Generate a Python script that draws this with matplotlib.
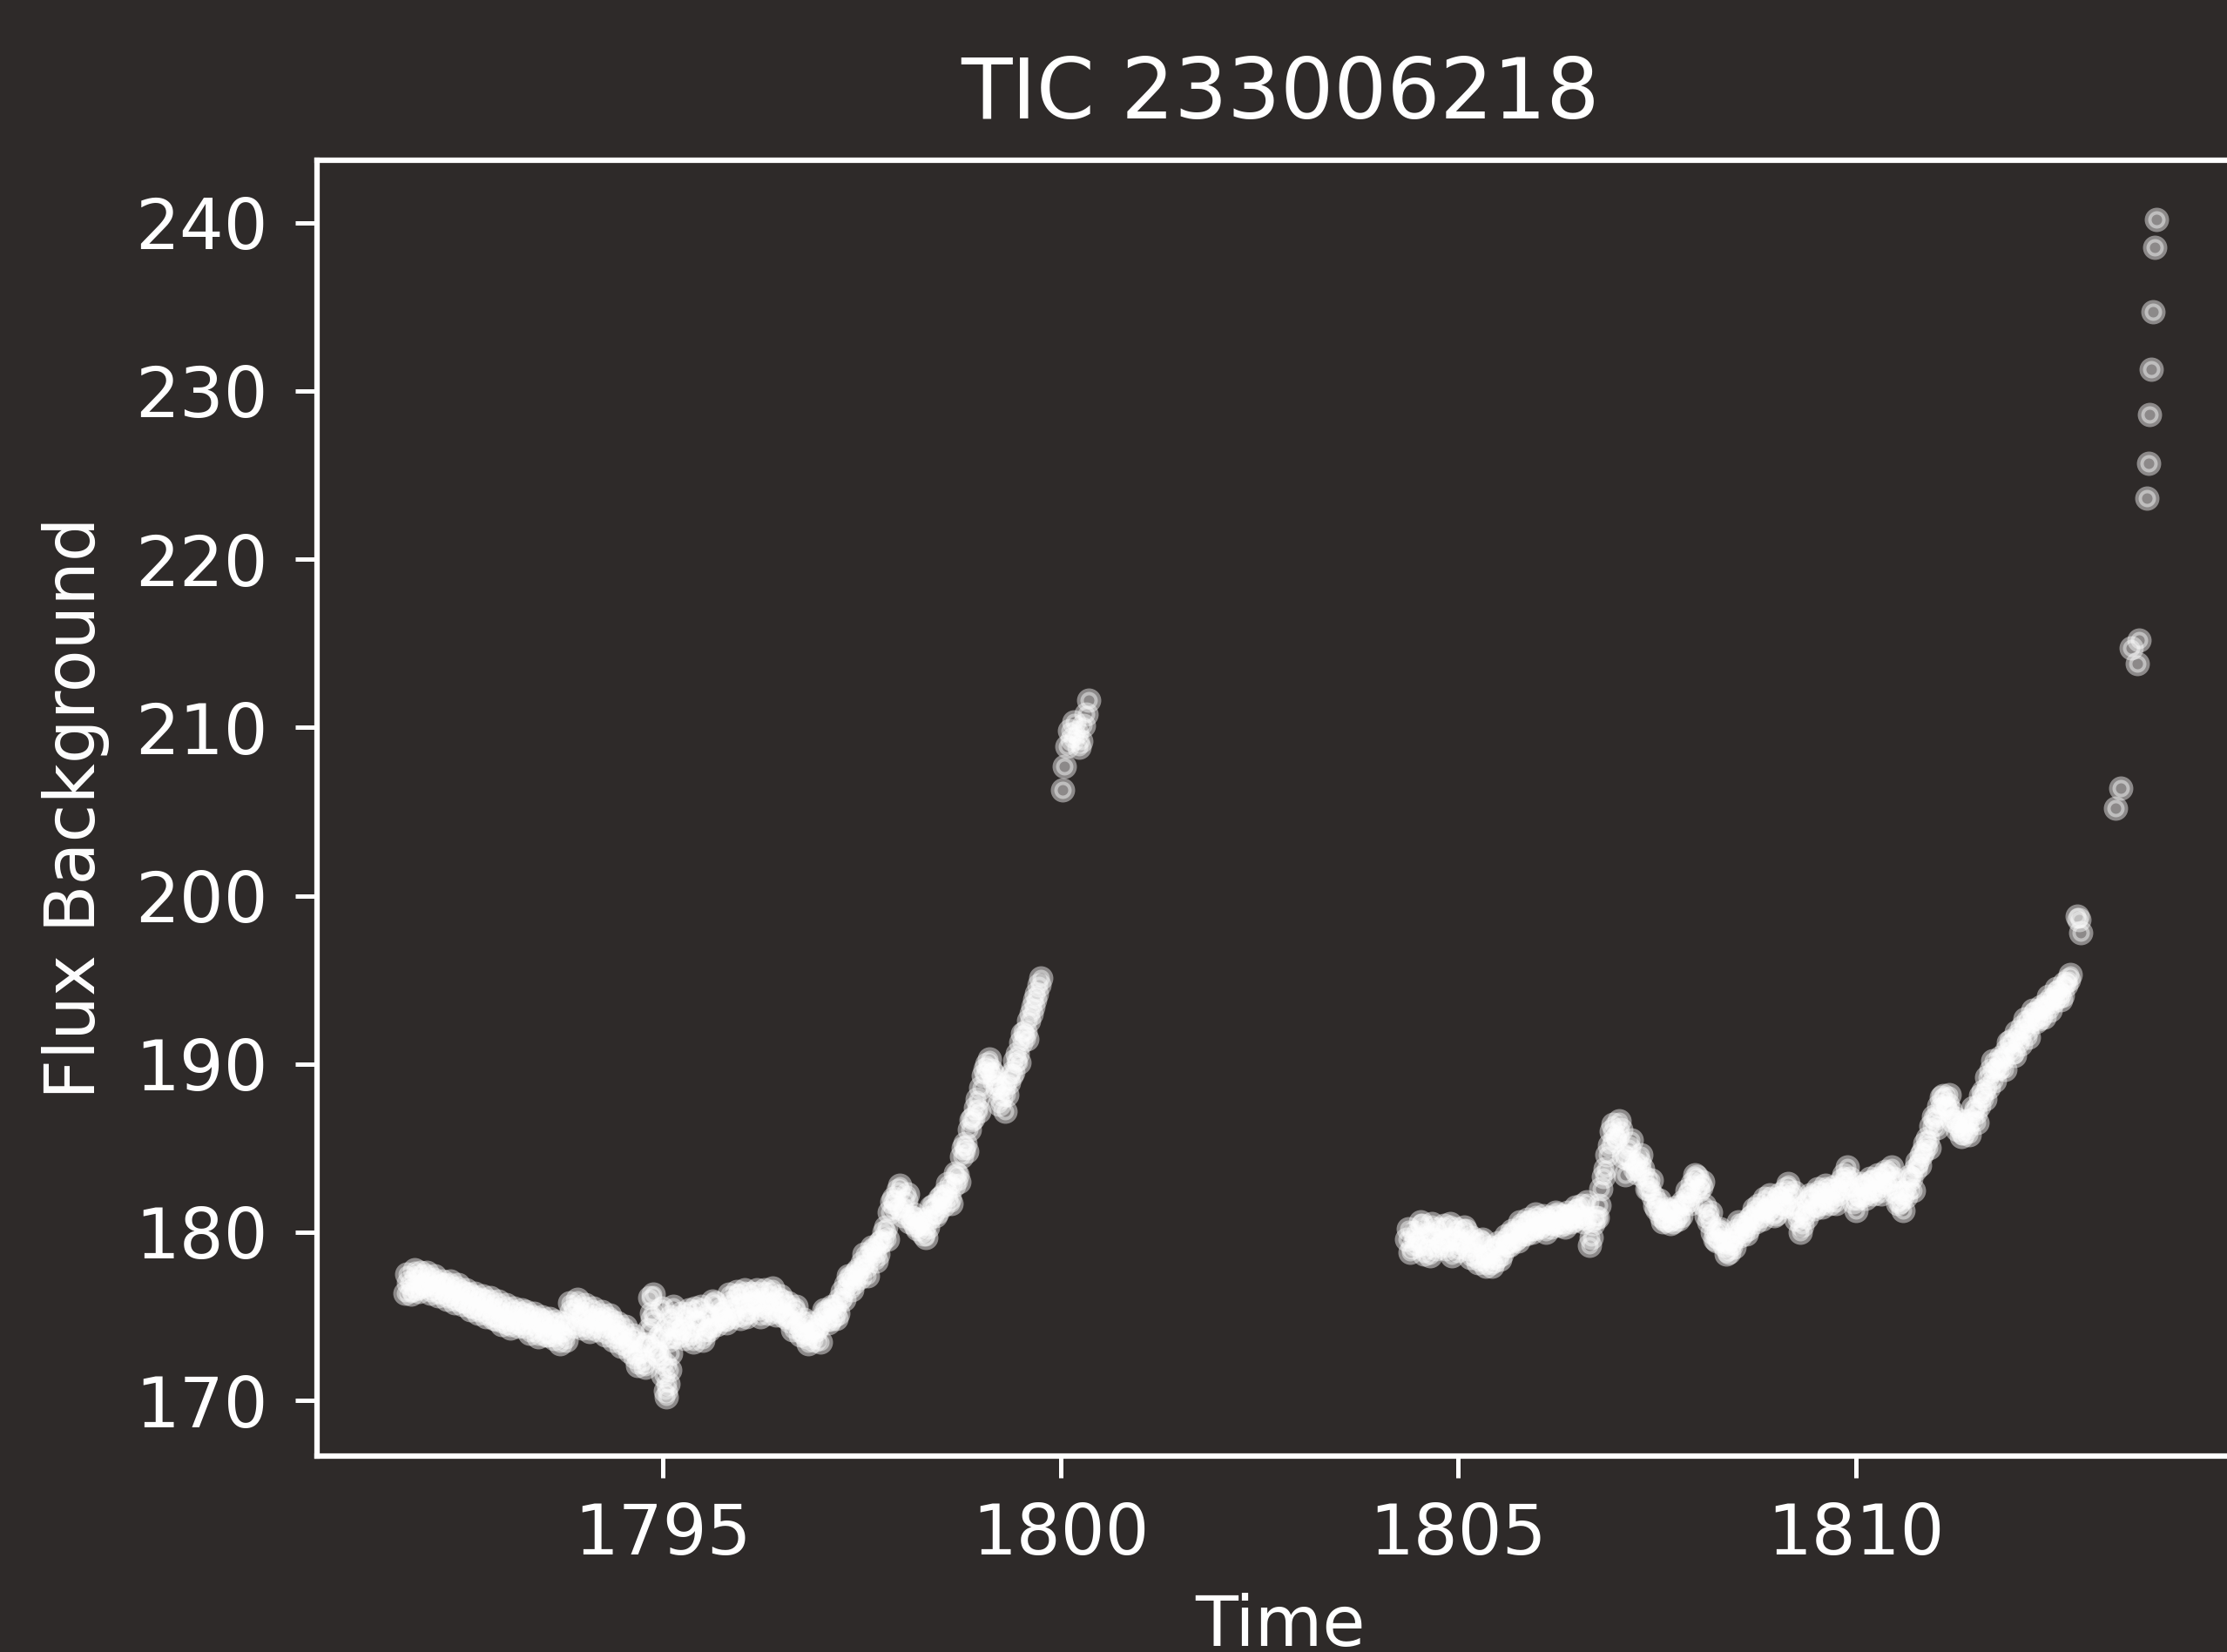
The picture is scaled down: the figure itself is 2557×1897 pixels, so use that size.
import numpy as np
import matplotlib
matplotlib.use("Agg")
import matplotlib.pyplot as plt

# ---- labels -------------------------------------------------------------
title = "TIC 233006218"
x_label = "Time"
y_label = "Flux Background"

x_ticks = [1795, 1800, 1805, 1810]
y_ticks = [170, 180, 190, 200, 210, 220, 230, 240]

# ---- background flux ------------------------------------------------------
# Dense stretches are stored as two interleaved samplings, each spaced by
# `cadence` days; the second one is offset by half a cadence.
cadence = 0.05

orbit1_start = 1791.75
orbit1_flux = [
    176.4, 177.0, 176.6, 177.3, 177.6, 176.9, 177.2, 176.7, 177.0, 176.5,
    176.9, 176.3, 176.7, 176.1, 176.5, 175.9, 176.3, 175.6, 176.0, 175.5,
    175.9, 175.3, 175.6, 174.8, 175.4, 175.0, 174.6, 175.2, 174.7, 174.9,
    174.4, 175.0, 174.6, 174.2, 174.8, 174.5, 173.9, 174.4, 174.7, 173.4,
    174.0, 174.6, 175.3, 175.6, 174.9, 175.2, 174.5, 175.0, 174.6, 174.8,
    174.9, 174.4, 174.7, 174.1, 173.8, 174.0, 173.3, 173.6, 172.6, 172.9,
    172.3, 173.4, 175.2, 173.1, 172.6, 171.5, 174.3, 175.0, 174.5, 174.1,
    174.3, 174.9, 174.0, 175.5, 174.6, 173.6, 175.1, 174.4, 175.8, 174.9,
    175.2, 174.6, 175.8, 175.4, 176.2, 175.7, 175.0, 176.4, 175.9, 175.5,
    176.0, 175.6, 176.3, 175.8, 175.4, 175.9, 175.1, 174.7, 175.3, 174.5,
    174.2, 173.8, 174.6, 173.6, 174.4, 174.9, 175.3, 174.8, 175.6, 175.2,
    176.5, 176.9, 177.3, 177.0, 177.8, 178.2, 178.0, 178.6, 179.0, 178.7,
    179.5, 180.3, 181.2, 182.0, 182.5, 181.4, 181.9, 180.6, 181.1, 180.2,
    180.5, 179.7, 180.9, 181.6, 181.2, 182.1, 182.4, 182.0, 182.8, 183.4,
    184.5, 185.3, 186.1, 186.8, 187.9, 188.6, 189.7, 190.3, 189.4, 188.6,
    188.0, 187.2, 188.9, 189.5, 190.6, 191.3, 191.9, 192.6, 193.4, 194.2,
    195.1,
]
orbit1_flux_mid = [
    177.5, 176.3, 177.8, 176.5, 176.8, 177.6, 176.4, 177.4, 176.2, 177.1,
    176.0, 177.1, 175.8, 176.9, 175.7, 176.6, 175.4, 176.4, 175.2, 176.2,
    175.0, 176.1, 174.9, 175.9, 174.5, 175.7, 174.3, 175.5, 174.4, 175.4,
    175.3, 174.0, 175.2, 173.8, 175.0, 173.9, 174.9, 173.7, 174.1, 174.6,
    173.6, 175.8, 174.4, 176.0, 174.3, 175.7, 174.1, 175.5, 174.2, 175.3,
    173.9, 175.1, 173.6, 174.6, 173.2, 174.4, 172.9, 173.9, 172.1, 173.4,
    172.0, 174.2, 176.3, 172.8, 173.9, 170.6, 173.6, 175.6, 173.8, 175.2,
    173.7, 175.4, 173.5, 174.9, 175.6, 174.0, 174.2, 175.9, 174.5, 175.4,
    174.8, 176.3, 175.0, 176.5, 174.9, 176.6, 175.3, 175.8, 176.6, 175.0,
    176.6, 175.2, 176.7, 175.1, 176.2, 175.0, 175.8, 174.2, 175.6, 173.9,
    174.8, 173.4, 174.0, 174.2, 173.5, 175.4, 174.6, 175.6, 174.9, 176.0,
    176.0, 177.4, 176.6, 177.6, 177.3, 178.7, 177.4, 179.1, 178.3, 179.4,
    180.0, 179.6, 181.8, 181.5, 182.8, 181.0, 182.3, 180.9, 180.4, 180.8,
    179.9, 180.3, 181.5, 181.0, 182.0, 181.6, 182.9, 181.7, 183.5, 183.0,
    185.0, 184.8, 186.7, 187.4, 187.2, 189.3, 190.0, 189.6, 188.9, 187.6,
    188.6, 188.2, 189.3, 190.2, 190.1, 191.8, 191.5, 193.0, 193.8, 194.7,
]

# scattered cadences around the momentum dump near 1795
orbit1_dump_time = [1794.83, 1794.86, 1794.95, 1794.98, 1795.02, 1795.04,
                    1795.06, 1795.08, 1795.10]
orbit1_dump_flux = [176.1, 174.8, 173.8, 175.5, 172.2, 170.2,
                    171.0, 171.8, 172.8]

orbit1_tail_time = [1800.02, 1800.05, 1800.08, 1800.11, 1800.14, 1800.17,
                    1800.20, 1800.23, 1800.26, 1800.29, 1800.32, 1800.35]
orbit1_tail_flux = [206.3, 207.7, 208.9, 209.8, 209.3, 210.3,
                    209.7, 208.8, 209.2, 210.1, 210.8, 211.6]

orbit2_start = 1804.35
orbit2_flux = [
    179.6, 178.8, 180.0, 179.3, 180.4, 179.1, 178.6, 179.8, 180.2, 179.4,
    179.0, 180.5, 179.7, 178.9, 179.5, 180.1, 178.5, 179.3, 178.2, 179.6,
    178.0, 179.1, 178.3, 179.4, 178.7, 179.8, 179.2, 180.0, 179.5, 180.3,
    179.9, 180.6, 180.2, 180.8, 180.4, 180.0, 180.9, 180.5, 181.1, 180.6,
    180.3, 181.0, 180.7, 181.3, 181.6, 180.9, 179.2, 180.5, 180.9, 182.6,
    183.8, 185.2, 186.4, 185.7, 186.1, 183.4, 185.0, 184.2, 183.5, 184.6,
    183.2, 182.6, 182.1, 181.4, 181.0, 180.7, 181.3, 180.6, 181.5, 181.0,
    181.7, 182.2, 182.9, 183.3, 182.7, 181.6, 180.6, 180.0, 179.5, 180.2,
    179.2, 178.8, 179.6, 180.1, 179.8, 180.5, 180.2, 181.0, 180.6, 181.2,
    182.0, 181.4, 181.8, 181.1, 182.3, 181.7, 182.9, 181.5, 180.8, 180.0,
    181.2, 181.8, 182.1, 181.6, 182.3, 181.9, 182.5, 182.1, 181.7, 182.6,
    183.4, 183.9, 182.6, 181.3, 182.2, 182.8, 182.4, 183.0, 182.6, 183.1,
    182.8, 183.5, 183.9, 182.4, 181.8, 181.3, 182.6, 183.2, 183.7, 184.0,
    184.8, 185.6, 186.3, 186.8, 187.5, 188.1, 187.6, 187.2, 186.8, 186.4,
    185.9, 186.2, 186.7, 187.1, 187.5, 188.4, 189.2, 189.6, 189.0, 189.8,
    190.3, 190.8, 191.4, 190.5, 191.6, 192.2, 192.0, 192.6, 193.0, 192.7,
    193.3, 193.6, 193.2, 193.9, 194.3, 194.1, 194.7, 195.3,
]
orbit2_flux_mid = [
    180.2, 179.1, 179.6, 180.6, 178.7, 179.9, 180.5, 179.0, 179.5, 180.4,
    179.6, 178.6, 180.2, 179.4, 180.3, 179.0, 179.7, 178.6, 179.5, 178.4,
    178.6, 178.0, 179.0, 178.4, 179.4, 179.2, 180.1, 179.6, 180.6, 179.9,
    180.8, 180.0, 181.1, 180.3, 181.0, 180.6, 180.3, 181.2, 180.4, 181.0,
    181.2, 180.6, 181.5, 181.0, 180.6, 181.8, 179.7, 180.9, 181.6, 183.3,
    184.6, 186.0, 185.5, 186.6, 184.5, 184.4, 185.5, 183.8, 184.2, 183.8,
    182.6, 183.1, 181.6, 181.9, 180.6, 181.4, 180.5, 181.2, 180.8, 181.8,
    182.5, 181.7, 183.4, 182.5, 183.0, 181.0, 181.2, 179.6, 180.1, 179.6,
    178.7, 179.4, 179.1, 180.6, 180.3, 179.9, 180.9, 181.4, 181.6, 180.8,
    181.3, 182.2, 181.0, 182.0, 181.5, 182.6, 182.1, 182.4, 181.2, 180.4,
    180.9, 182.2, 181.4, 182.6, 181.5, 182.8, 181.7, 182.7, 182.3, 183.1,
    182.9, 183.2, 181.8, 182.0, 182.9, 182.0, 183.2, 182.3, 183.4, 182.3,
    183.6, 182.9, 183.2, 181.7, 182.4, 182.1, 183.3, 182.5, 184.2, 184.6,
    185.3, 185.0, 186.9, 186.2, 188.0, 187.4, 188.2, 186.6, 186.1, 185.7,
    186.6, 185.8, 187.4, 186.5, 188.1, 187.9, 188.6, 190.2, 189.7, 190.4,
    189.7, 191.3, 190.7, 191.9, 191.2, 192.7, 191.6, 193.2, 192.5, 193.4,
    192.8, 194.0, 193.7, 194.5, 193.8, 194.8, 195.0,
]

orbit2_tail_time = [1812.79, 1812.81, 1812.83, 1813.27, 1813.34, 1813.47,
                    1813.54, 1813.56, 1813.66, 1813.68, 1813.70, 1813.72,
                    1813.74, 1813.76, 1813.78]
orbit2_tail_flux = [198.8, 198.6, 197.8, 205.2, 206.4, 214.7,
                    213.8, 215.2, 223.6, 225.7, 228.6, 231.3,
                    234.7, 238.5, 240.2]

# ---- assemble ------------------------------------------------------------
orbit1_time = orbit1_start + cadence * np.arange(len(orbit1_flux))
orbit1_time_mid = orbit1_start + cadence * (np.arange(len(orbit1_flux_mid)) + 0.5)
orbit2_time = orbit2_start + cadence * np.arange(len(orbit2_flux))
orbit2_time_mid = orbit2_start + cadence * (np.arange(len(orbit2_flux_mid)) + 0.5)

time = np.concatenate([orbit1_time, orbit1_time_mid, orbit1_dump_time,
                       orbit1_tail_time, orbit2_time, orbit2_time_mid,
                       orbit2_tail_time])
flux = np.concatenate([orbit1_flux, orbit1_flux_mid, orbit1_dump_flux,
                       orbit1_tail_flux, orbit2_flux, orbit2_flux_mid,
                       orbit2_tail_flux])
order = np.argsort(time)
time, flux = time[order], flux[order]

# ---- style ---------------------------------------------------------------
bg = "#2e2a29"
fg = "white"
dpi = 300
plt.rcParams["font.family"] = ["DejaVu Sans"]

fig = plt.figure(figsize=(2557 / dpi, 1897 / dpi), dpi=dpi, facecolor=bg)
ax = fig.add_axes([0.1424, 0.1186, 0.8651, 0.7844])
ax.set_facecolor(bg)

ax.scatter(time, flux, s=23, facecolors=fg, edgecolors=fg,
           linewidths=1.9, alpha=0.45)

ax.set_xticks(x_ticks)
ax.set_yticks(y_ticks)

for side, spine in ax.spines.items():
    spine.set_color(fg)
    spine.set_linewidth(1.5)

ax.tick_params(axis="both", colors=fg, labelcolor=fg, length=6,
               width=1.2, labelsize=19.2)
ax.tick_params(axis="x", pad=6.5)
ax.tick_params(axis="y", pad=7.5)

ax.set_xlabel(x_label, color=fg, fontsize=19.2, labelpad=6.5)
ax.set_ylabel(y_label, color=fg, fontsize=19.2, labelpad=7)
ax.set_title(title, color=fg, fontsize=23, pad=11.5)

fig.savefig("out.png", dpi=dpi, facecolor=bg)
